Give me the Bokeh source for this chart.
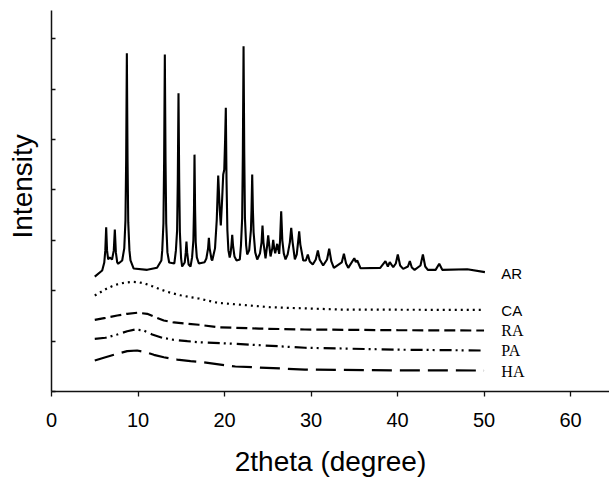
from bokeh.plotting import figure
from bokeh.models import Range1d, FixedTicker, Title, CustomJSTickFormatter, LinearAxis
from bokeh.embed import file_html
from bokeh.resources import INLINE
from bokeh.core.properties import value

# ---- data ----
ar_x = [5.0, 5.86, 6.1, 6.22, 6.32, 6.42, 6.55, 6.74, 7.0, 7.2, 7.32, 7.44, 7.6, 7.71, 8.17,
        8.41, 8.55, 8.63, 8.71, 8.79, 8.87, 9.01, 9.13, 9.5, 11.06, 12.2, 12.7, 12.8, 12.94,
        13.02, 13.1, 13.18, 13.26, 13.4, 13.6, 14.2, 14.38, 14.52, 14.6, 14.68, 14.76,
        14.84, 14.98, 15.1, 15.4, 15.52, 15.6, 15.68, 15.85, 16.07, 16.25, 16.4, 16.47,
        16.53, 16.6, 16.67, 16.8, 17.03, 17.7, 17.9, 18.1, 18.19, 18.28, 18.5, 18.58,
        18.9, 19.1, 19.27, 19.45, 19.57, 19.72, 19.85, 19.97, 20.07, 20.15, 20.23, 20.33,
        20.45, 20.6, 20.7, 20.8, 20.89, 20.98, 21.15, 21.39, 21.77, 21.9, 22.04, 22.12,
        22.2, 22.28, 22.36, 22.5, 22.62, 22.85, 23.05, 23.12, 23.2, 23.28, 23.36, 23.55,
        23.78, 24.1, 24.28, 24.39, 24.5, 24.74, 24.93, 25.05, 25.17, 25.32, 25.52, 25.63,
        25.74, 25.86, 26.09, 26.32, 26.42, 26.55, 26.68, 26.85, 27.05, 27.3, 27.55, 27.71,
        27.87, 28.13, 28.35, 28.5, 28.63, 28.76, 29.1, 29.4, 29.63, 29.85, 30.2, 30.55,
        30.79, 31.0, 31.4, 31.85, 32.1, 32.35, 32.64, 33.55, 33.8, 34.05, 34.3, 35.0, 35.18,
        35.34, 35.72, 38.0, 38.6, 38.88, 39.1, 39.5, 39.8, 40.03, 40.3, 40.65, 41.2, 41.42,
        41.65, 41.97, 42.65, 42.93, 43.2, 43.5, 44.4, 44.82, 45.17, 48.06, 50.1]
ar_y = [114.0, 120.0, 128.0, 140.0, 163.0, 140.0, 131.0, 133.0, 131.0, 140.0, 160.7, 138.0, 128.0, 126.7, 130.0,
        142.0, 170.0, 230.0, 335.6, 230.0, 168.0, 140.0, 130.0, 122.0, 120.7, 122.7, 130.0, 140.0, 167.0,
        230.0, 334.3, 230.0, 167.0, 138.0, 128.0, 127.0, 140.0, 160.0, 210.0, 296.0, 210.0,
        158.0, 132.0, 124.0, 128.0, 138.0, 148.8, 138.0, 126.0, 124.0, 133.0, 150.0, 180.0,
        235.0, 180.0, 148.0, 133.0, 127.0, 128.3, 132.0, 142.0, 152.5, 142.0, 131.0, 130.0,
        142.0, 170.0, 214.3, 180.0, 164.7, 190.0, 215.3, 220.0, 250.0, 281.4, 210.0, 160.0,
        140.0, 133.0, 137.0, 145.0, 155.5, 145.0, 134.0, 130.0, 131.0, 145.0, 172.0, 237.0,
        342.6, 237.0, 172.0, 145.0, 136.0, 140.0, 160.0, 180.0, 215.3, 180.0, 158.0, 138.0,
        131.0, 137.0, 148.0, 164.7, 148.0, 132.2, 145.0, 154.8, 145.0, 134.0, 142.0, 150.5,
        142.0, 137.2, 146.5, 136.6, 150.0, 178.9, 150.0, 137.0, 131.0, 136.0, 148.0, 162.4,
        148.0, 131.0, 136.0, 148.0, 159.0, 146.0, 130.0, 130.0, 135.9, 129.0, 126.0, 131.0,
        139.9, 131.0, 125.0, 131.0, 141.6, 129.0, 122.7, 128.0, 136.6, 127.0, 122.7, 132.2, 128.3,
        130.0, 122.3, 122.7, 129.3, 124.0, 128.3, 123.3, 127.0, 135.9, 125.0, 121.7, 124.0, 129.3,
        123.0, 120.7, 125.0, 135.9, 124.0, 120.7, 120.7, 126.7, 120.7, 121.3, 118.4]

ca_x = [5.0, 5.66, 6.36, 7.0, 7.78, 8.55, 9.33, 10.1, 10.87, 11.64, 12.4, 13.18, 13.95,
        14.9, 16.07, 17.0, 19.2, 25.3, 33.4, 41.5, 49.8]
ca_y = [95.2, 98.5, 101.9, 104.5, 106.8, 108.1, 108.8, 108.4, 106.8, 104.5, 101.9, 99.5, 97.5,
        95.5, 93.5, 92.3, 88.0, 83.6, 81.3, 81.1, 81.0]

ra_x = [5.0, 6.24, 7.6, 8.75, 9.9, 11.06, 12.0, 12.98, 14.14, 15.7, 17.03, 19.2, 24.0,
        29.3, 40.0, 50.0]
ra_y = [71.1, 73.1, 75.4, 77.1, 78.1, 77.1, 73.7, 70.4, 68.5, 67.2, 66.2, 63.8, 62.4,
        61.5, 60.8, 60.5]

pa_x = [5.0, 6.24, 7.6, 8.75, 9.7, 10.67, 11.64, 12.8, 14.14, 15.7, 17.03, 21.25, 29.3,
        40.0, 49.6]
pa_y = [52.3, 53.3, 56.5, 59.8, 61.5, 60.5, 56.5, 53.3, 51.3, 49.9, 48.9, 47.3, 43.4,
        41.5, 40.7]

ha_x = [5.0, 6.24, 7.6, 8.75, 9.9, 10.87, 11.83, 12.98, 14.53, 16.07, 17.03, 21.25, 29.3,
        40.0, 50.0]
ha_y = [30.8, 34.0, 37.4, 40.0, 40.7, 39.0, 36.4, 34.0, 31.7, 30.1, 29.5, 24.8, 21.8,
        21.0, 20.8]

labels_sans = ["AR", "CA"]
labels_sans_y = [116.7, 80.7]
labels_serif = ["RA", "PA", "HA"]
labels_serif_y = [60.5, 40.7, 20.0]
label_x = 52.0

x_ticks = [0, 10, 20, 30, 40, 50, 60]
y_ticks = [0, 50, 100, 150, 200, 250, 300, 350]

# ---- figure ----
p = figure(width=609, height=479, output_backend="svg", toolbar_location=None,
           x_range=Range1d(0, 64.5), y_range=Range1d(0, 378),
           min_border_left=51, min_border_right=0, min_border_top=10, min_border_bottom=88)
p.outline_line_color = None
p.grid.visible = False
p.background_fill_color = "white"
p.border_fill_color = "white"

ink = "#000000"
p.line(ar_x, ar_y, line_color=ink, line_width=2.1)
p.line(ca_x, ca_y, line_color=ink, line_width=2.2, line_dash="2 4")
p.line(ra_x, ra_y, line_color=ink, line_width=2.2, line_dash="11 5")
p.line(pa_x, pa_y, line_color=ink, line_width=2.2, line_dash="12 4 2 4 2 5")
p.line(ha_x, ha_y, line_color=ink, line_width=2.2, line_dash="20 8")

p.text(x=[label_x] * len(labels_sans), y=labels_sans_y, text=labels_sans,
       text_font=value("Liberation Sans"), text_font_size="15px",
       text_align="left", text_baseline="middle", text_color=ink)
p.text(x=[label_x] * len(labels_serif), y=labels_serif_y, text=labels_serif,
       text_font=value("Liberation Serif"), text_font_size="16px",
       text_align="left", text_baseline="middle", text_color=ink)

# axes
for ax in (p.xaxis[0], p.yaxis[0]):
    ax.axis_line_color = "#111111"
    ax.axis_line_width = 1.5
    ax.major_tick_line_color = "#111111"
    ax.major_tick_line_width = 1.3
    ax.minor_tick_line_color = None

xa = p.xaxis[0]
xa.ticker = FixedTicker(ticks=x_ticks)
xa.major_tick_in = 0
xa.major_tick_out = 5
xa.major_label_text_font = "Liberation Sans"
xa.major_label_text_font_size = "20px"
xa.major_label_text_color = ink
xa.major_label_standoff = 16
xa.axis_label = "2theta (degree)"
xa.axis_label_text_font = "Liberation Sans"
xa.axis_label_text_font_size = "28px"
xa.axis_label_text_font_style = "normal"
xa.axis_label_text_color = ink
xa.axis_label_standoff = 16

ya = p.yaxis[0]
ya.ticker = FixedTicker(ticks=y_ticks)
ya.major_tick_in = 4
ya.major_tick_out = 0
ya.major_label_standoff = 0
ya.formatter = CustomJSTickFormatter(code="return '';")

# invisible spacer between the y axis and its vertical title
spacer = LinearAxis(ticker=FixedTicker(ticks=y_ticks),
                    formatter=CustomJSTickFormatter(code="return '';"),
                    axis_line_color=None, major_tick_line_color=None,
                    minor_tick_line_color=None, major_tick_in=0, major_tick_out=14,
                    major_label_standoff=0)
p.add_layout(spacer, "left")

p.add_layout(Title(text="Intensity", align="left", offset=153, standoff=0,
                   text_font="Liberation Sans", text_font_size="28px",
                   text_font_style="normal", text_color=ink), "left")

open("out.html", "w").write(file_html(p, INLINE))
